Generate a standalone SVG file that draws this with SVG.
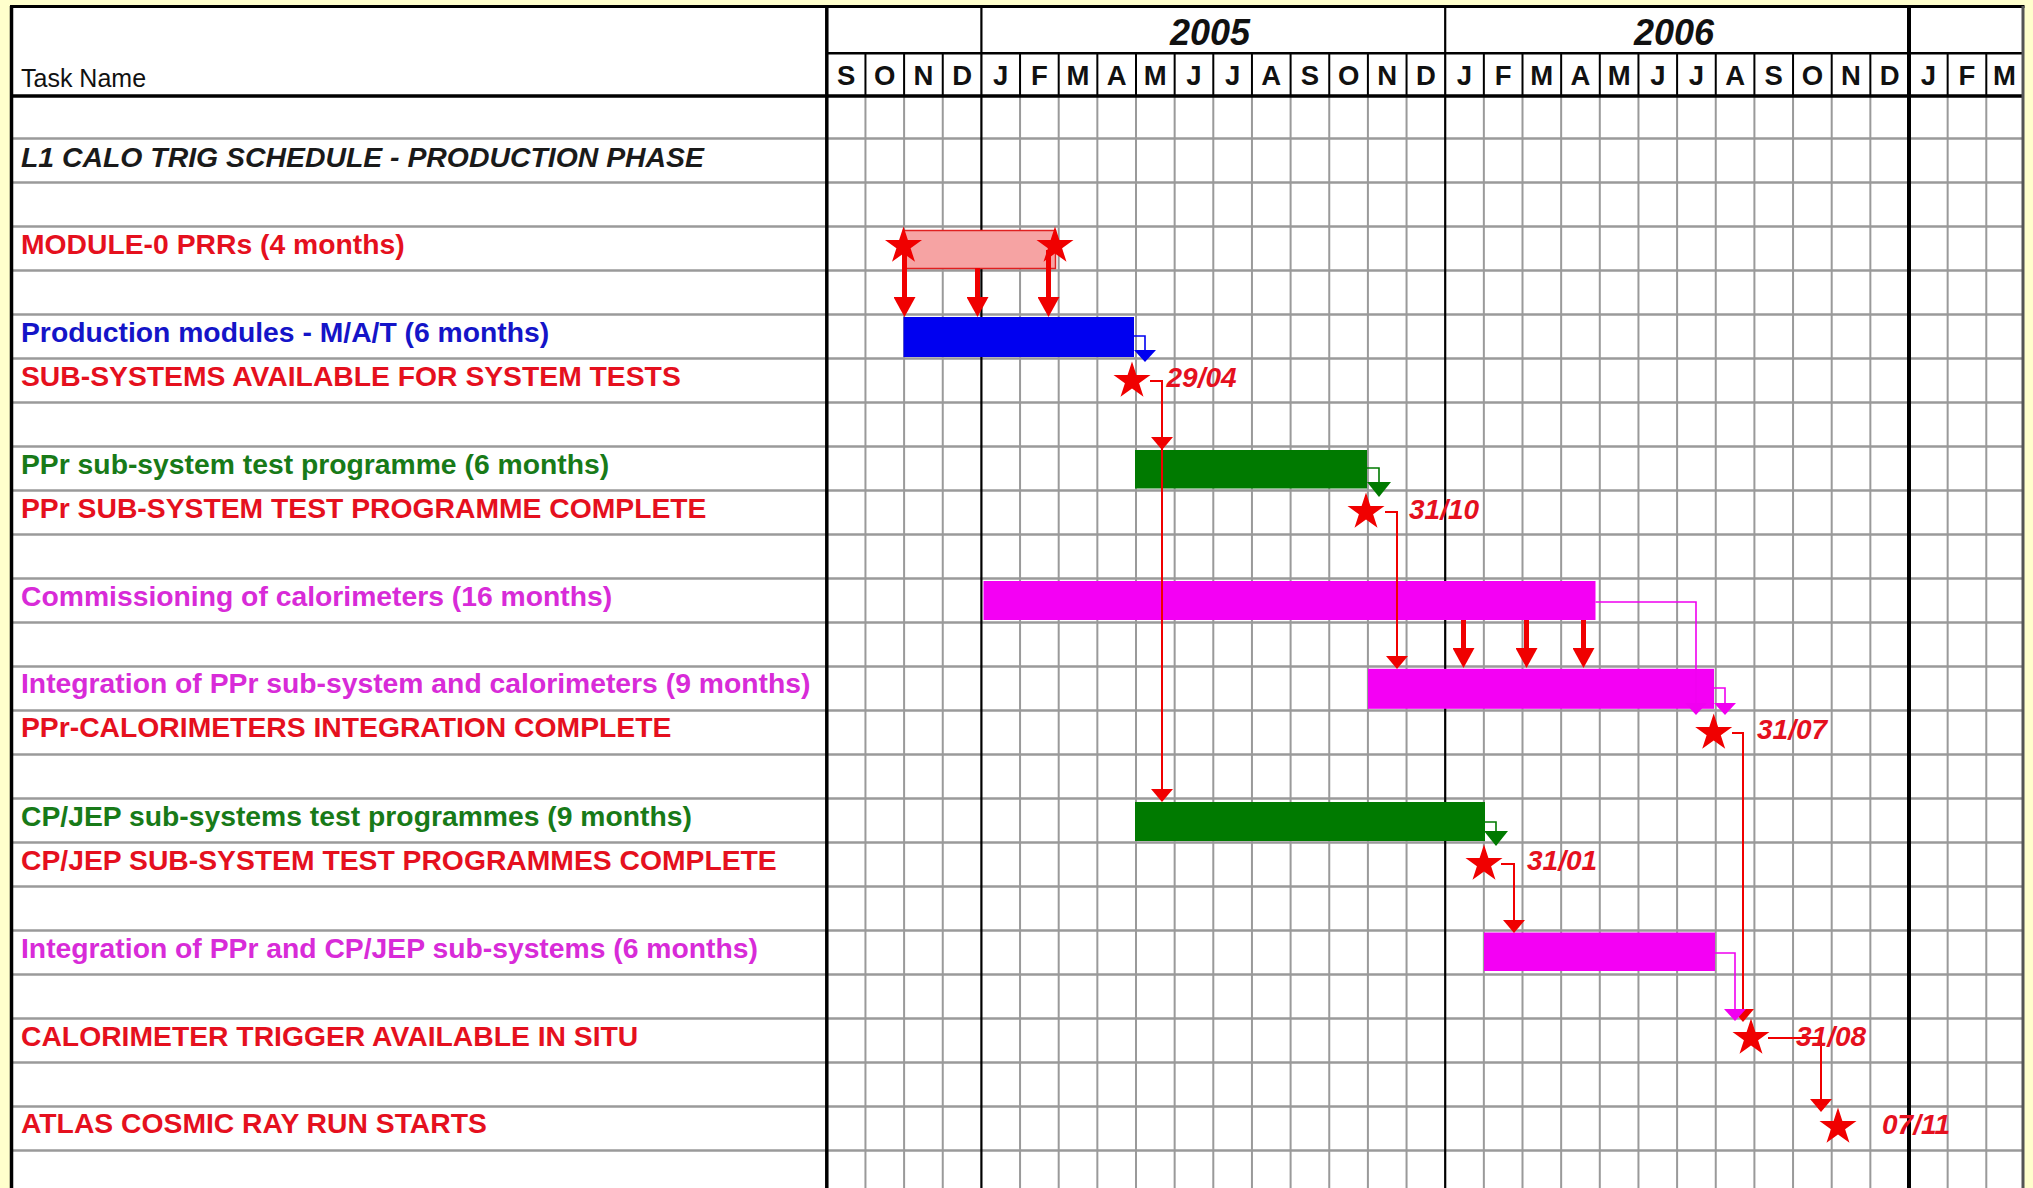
<svg xmlns="http://www.w3.org/2000/svg" xmlns:xlink="http://www.w3.org/1999/xlink" width="2033" height="1188" viewBox="0 0 2033 1188">
<style>
.f{font-family:'Liberation Sans',Arial,Helvetica,sans-serif;font-weight:bold}
.t{font-size:28.3px}
.red{fill:#E5101E}
.blue{fill:#1414C8}
.green{fill:#187A18}
.mag{fill:#D82BD8}
.date{font-size:28px;font-style:italic;fill:#E5101E}
.mon{font-size:27.5px;text-anchor:middle;fill:#111}
.yr{font-size:36px;font-style:italic;text-anchor:middle;fill:#111}
.grid{stroke:#9A9A9A;stroke-width:2;fill:none}
.hgrid{stroke:#9A9A9A;stroke-width:2.5;fill:none}
.blk{stroke:#000;fill:none}
.lnR{stroke:#F00000;stroke-width:2;fill:none}
.lnB{stroke:#0000F0;stroke-width:1.6;fill:none}
.lnG{stroke:#007A00;stroke-width:1.6;fill:none}
.lnM{stroke:#F000F0;stroke-width:1.6;fill:none}
.thick{stroke:#F00000;stroke-width:5;fill:none}
.star{fill:#F00000}
</style>
<defs>
<path id="star" d="M0,-19.5 L4.4,-6.1 L18.5,-6 L7.1,2.3 L11.5,15.8 L0,7.5 L-11.5,15.8 L-7.1,2.3 L-18.5,-6 L-4.4,-6.1 Z"/>
<marker id="mR" markerUnits="userSpaceOnUse" markerWidth="13" markerHeight="22" viewBox="0 0 13 22" refX="0" refY="11" orient="auto"><path d="M0,0 L13,11 L0,22 Z" fill="#F00000"/></marker>
<marker id="mRT" markerUnits="userSpaceOnUse" markerWidth="20" markerHeight="22" viewBox="0 0 20 22" refX="0" refY="11" orient="auto"><path d="M0,0 L20,11 L0,22 Z" fill="#F00000"/></marker>
<marker id="mB" markerUnits="userSpaceOnUse" markerWidth="12" markerHeight="22" viewBox="0 0 12 22" refX="0" refY="11" orient="auto"><path d="M0,0 L12,11 L0,22 Z" fill="#0000F0"/></marker>
<marker id="mG" markerUnits="userSpaceOnUse" markerWidth="15" markerHeight="24" viewBox="0 0 15 24" refX="0" refY="12" orient="auto"><path d="M0,0 L15,12 L0,24 Z" fill="#007A00"/></marker>
<marker id="mM" markerUnits="userSpaceOnUse" markerWidth="12" markerHeight="22" viewBox="0 0 12 22" refX="0" refY="11" orient="auto"><path d="M0,0 L12,11 L0,22 Z" fill="#F000F0"/></marker>
</defs>

<rect x="0" y="0" width="2033" height="1188" fill="#FFFFCC"/>
<rect x="11.5" y="6.5" width="2011.5" height="1182" fill="#FFFFFF"/>

<g id="grid">
<path class="hgrid" d="M11.5,138.5H2023 M11.5,182.5H2023 M11.5,226.5H2023 M11.5,270.5H2023 M11.5,314.5H2023 M11.5,358.5H2023 M11.5,402.5H2023 M11.5,446.5H2023 M11.5,490.5H2023 M11.5,534.5H2023 M11.5,578.5H2023 M11.5,622.5H2023 M11.5,666.5H2023 M11.5,710.5H2023 M11.5,754.5H2023 M11.5,798.5H2023 M11.5,842.5H2023 M11.5,886.5H2023 M11.5,930.5H2023 M11.5,974.5H2023 M11.5,1018.5H2023 M11.5,1062.5H2023 M11.5,1106.5H2023 M11.5,1150.5H2023"/>
<path class="grid" d="M865.45,97V1188 M904.1,97V1188 M942.75,97V1188 M1020.05,97V1188 M1058.7,97V1188 M1097.35,97V1188 M1136,97V1188 M1174.65,97V1188 M1213.3,97V1188 M1251.95,97V1188 M1290.6,97V1188 M1329.25,97V1188 M1367.9,97V1188 M1406.55,97V1188 M1483.85,97V1188 M1522.5,97V1188 M1561.15,97V1188 M1599.8,97V1188 M1638.45,97V1188 M1677.1,97V1188 M1715.75,97V1188 M1754.4,97V1188 M1793.05,97V1188 M1831.7,97V1188 M1870.35,97V1188 M1947.65,97V1188 M1986.3,97V1188"/>
<path class="blk" stroke-width="2" d="M865.45,53V97 M904.1,53V97 M942.75,53V97 M1020.05,53V97 M1058.7,53V97 M1097.35,53V97 M1136,53V97 M1174.65,53V97 M1213.3,53V97 M1251.95,53V97 M1290.6,53V97 M1329.25,53V97 M1367.9,53V97 M1406.55,53V97 M1483.85,53V97 M1522.5,53V97 M1561.15,53V97 M1599.8,53V97 M1638.45,53V97 M1677.1,53V97 M1715.75,53V97 M1754.4,53V97 M1793.05,53V97 M1831.7,53V97 M1870.35,53V97 M1947.65,53V97 M1986.3,53V97"/>
<path class="blk" stroke-width="2.2" d="M981.4,6V1188 M1445.2,6V1188"/>
<path class="blk" stroke-width="4" d="M1909,6V1188"/>
<path class="blk" stroke-width="3.5" d="M826.8,6V1188"/>
<path class="blk" stroke-width="2.5" d="M826.8,53.3H2023"/>
<path class="blk" stroke-width="3.5" d="M11.5,96H2023"/>
<path class="blk" stroke-width="3" d="M10,6.5H2024.5"/>
<path class="blk" stroke-width="3.5" d="M11.5,6V1188"/>
<path stroke="#555" stroke-width="3" fill="none" d="M2023,6V1188"/>
</g>

<g id="header" class="f">
<text x="21" y="87" font-family="'Liberation Sans',Arial,sans-serif" font-weight="normal" font-size="25" fill="#111">Task Name</text>
<text class="yr" x="1210" y="45">2005</text>
<text class="yr" x="1674" y="45">2006</text>
<g class="mon">
<text x="846.1" y="85">S</text><text x="884.8" y="85">O</text><text x="923.4" y="85">N</text><text x="962.1" y="85">D</text>
<text x="1000.7" y="85">J</text><text x="1039.4" y="85">F</text><text x="1078" y="85">M</text><text x="1116.7" y="85">A</text>
<text x="1155.3" y="85">M</text><text x="1194" y="85">J</text><text x="1232.6" y="85">J</text><text x="1271.3" y="85">A</text>
<text x="1309.9" y="85">S</text><text x="1348.6" y="85">O</text><text x="1387.2" y="85">N</text><text x="1425.9" y="85">D</text>
<text x="1464.5" y="85">J</text><text x="1503.2" y="85">F</text><text x="1541.8" y="85">M</text><text x="1580.5" y="85">A</text>
<text x="1619.1" y="85">M</text><text x="1657.8" y="85">J</text><text x="1696.4" y="85">J</text><text x="1735.1" y="85">A</text>
<text x="1773.7" y="85">S</text><text x="1812.4" y="85">O</text><text x="1851" y="85">N</text><text x="1889.7" y="85">D</text>
<text x="1928.3" y="85">J</text><text x="1967" y="85">F</text><text x="2004.4" y="85">M</text>
</g>
</g>

<g id="title" class="f">
<text x="21" y="167" font-size="28.4" font-style="italic" fill="#1A1A1A">L1 CALO TRIG SCHEDULE - PRODUCTION PHASE</text>
</g>

<g id="task-module0" class="f">
<text class="t red" x="21" y="254">MODULE-0 PRRs (4 months)</text>
<rect x="903.5" y="230.5" width="152" height="38" fill="#F6A3A3" stroke="#E02020" stroke-width="1.5"/>
</g>

<g id="task-production" class="f">
<text class="t blue" x="21" y="341.5">Production modules - M/A/T (6 months)</text>
<rect x="903.5" y="317" width="230.5" height="40" fill="#0000F0"/>
</g>

<g id="task-ppr-test" class="f">
<text class="t green" x="21" y="473.5">PPr sub-system test programme (6 months)</text>
<rect x="1135" y="450" width="232" height="38.5" fill="#007A00"/>
</g>

<g id="task-commissioning" class="f">
<text class="t mag" x="21" y="605.5">Commissioning of calorimeters (16 months)</text>
<rect x="983.5" y="581" width="612" height="39" fill="#F400F4"/>
</g>

<g id="task-ppr-cal-integration" class="f">
<text class="t mag" x="21" y="693">Integration of PPr sub-system and calorimeters (9 months)</text>
<rect x="1368" y="668.8" width="346" height="40" fill="#F400F4"/>
</g>

<g id="task-cpjep-test" class="f">
<text class="t green" x="21" y="825.5">CP/JEP sub-systems test programmes (9 months)</text>
<rect x="1135" y="802" width="350" height="39" fill="#007A00"/>
</g>

<g id="task-ppr-cpjep-integration" class="f">
<text class="t mag" x="21" y="957.5">Integration of PPr and CP/JEP sub-systems (6 months)</text>
<rect x="1484" y="932.5" width="231" height="38.5" fill="#F400F4"/>
</g>

<g id="connectors">
<path class="thick" marker-end="url(#mRT)" d="M904.5,250V297"/>
<path class="thick" marker-end="url(#mRT)" d="M977.5,268V297"/>
<path class="thick" marker-end="url(#mRT)" d="M1048.5,250V297"/>
<path class="thick" marker-end="url(#mRT)" d="M1463.5,620V648"/>
<path class="thick" marker-end="url(#mRT)" d="M1526.5,620V648"/>
<path class="thick" marker-end="url(#mRT)" d="M1583.5,620V648"/>
<path class="lnB" marker-end="url(#mB)" d="M1134,336H1145V350"/>
<path class="lnR" marker-end="url(#mR)" d="M1150,381H1162V437"/>
<path class="lnR" marker-end="url(#mR)" d="M1162,437V789"/>
<path class="lnG" marker-end="url(#mG)" d="M1367,468H1379V482"/>
<path class="lnR" marker-end="url(#mR)" d="M1385,512H1397V656"/>
<path class="lnM" marker-end="url(#mM)" d="M1595.5,602H1696V703"/>
<path class="lnM" marker-end="url(#mM)" d="M1714,688H1725V703"/>
<path class="lnR" marker-end="url(#mR)" d="M1732,733H1743V1009"/>
<path class="lnG" marker-end="url(#mG)" d="M1485,822H1496V831"/>
<path class="lnR" marker-end="url(#mR)" d="M1501,864H1514V920"/>
<path class="lnM" marker-end="url(#mM)" d="M1715,953H1735V1009"/>
<path class="lnR" marker-end="url(#mR)" d="M1768,1038H1821V1099"/>
</g>

<g id="module0-stars">
<use href="#star" xlink:href="#star" class="star" x="903.5" y="246"/>
<use href="#star" xlink:href="#star" class="star" x="1055" y="246"/>
</g>

<g id="ms-subsystems" class="f">
<text class="t red" x="21" y="385.5">SUB-SYSTEMS AVAILABLE FOR SYSTEM TESTS</text>
<use href="#star" xlink:href="#star" class="star" x="1132" y="381"/>
<text class="date" x="1166.5" y="386.5">29/04</text>
</g>

<g id="ms-ppr-test-complete" class="f">
<text class="t red" x="21" y="517.5">PPr SUB-SYSTEM TEST PROGRAMME COMPLETE</text>
<use href="#star" xlink:href="#star" class="star" x="1366" y="512"/>
<text class="date" x="1409" y="518.5">31/10</text>
</g>

<g id="ms-ppr-cal-complete" class="f">
<text class="t red" x="21" y="737">PPr-CALORIMETERS INTEGRATION COMPLETE</text>
<use href="#star" xlink:href="#star" class="star" x="1713.7" y="733"/>
<text class="date" x="1757" y="739">31/07</text>
</g>

<g id="ms-cpjep-complete" class="f">
<text class="t red" x="21" y="869.5">CP/JEP SUB-SYSTEM TEST PROGRAMMES COMPLETE</text>
<use href="#star" xlink:href="#star" class="star" x="1484" y="864"/>
<text class="date" x="1527" y="869.5">31/01</text>
</g>

<g id="ms-trigger-in-situ" class="f">
<text class="t red" x="21" y="1045.5">CALORIMETER TRIGGER AVAILABLE IN SITU</text>
<use href="#star" xlink:href="#star" class="star" x="1751" y="1038"/>
<text class="date" x="1796" y="1046">31/08</text>
</g>

<g id="ms-cosmic-run" class="f">
<text class="t red" x="21" y="1133">ATLAS COSMIC RAY RUN STARTS</text>
<use href="#star" xlink:href="#star" class="star" x="1838" y="1127"/>
<text class="date" x="1882" y="1134">07/11</text>
</g>
</svg>
